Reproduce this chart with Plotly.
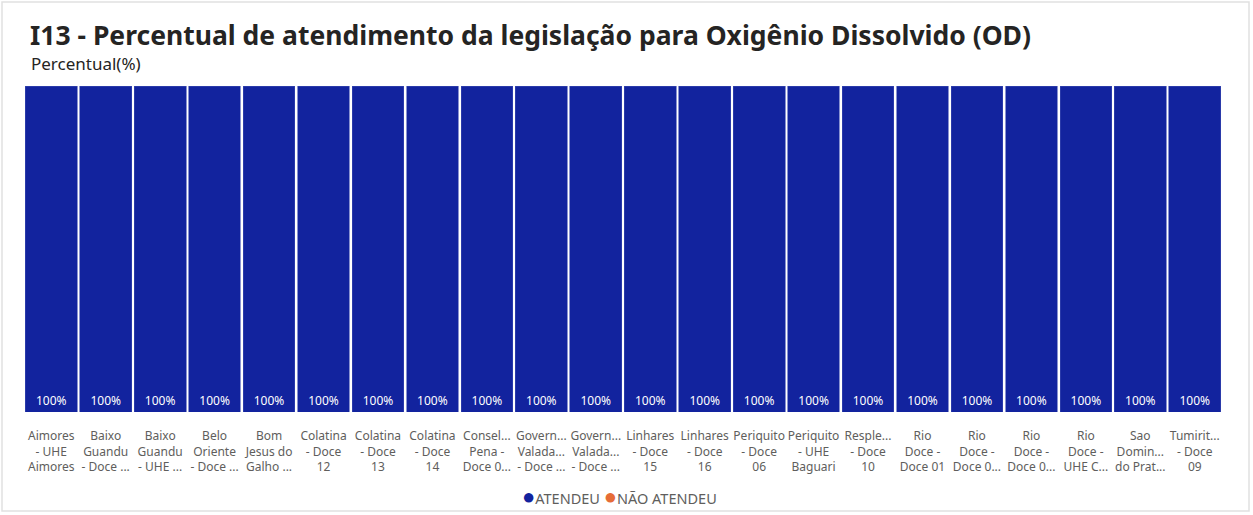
import plotly.graph_objects as go

categories = [
    "Aimores - UHE Aimores", "Baixo Guandu - Doce ...", "Baixo Guandu - UHE ...",
    "Belo Oriente - Doce ...", "Bom Jesus do Galho ...", "Colatina - Doce 12",
    "Colatina - Doce 13", "Colatina - Doce 14", "Consel... Pena - Doce 0...",
    "Govern... Valada... - Doce ... (1)", "Govern... Valada... - Doce ... (2)",
    "Linhares - Doce 15", "Linhares - Doce 16", "Periquito - Doce 06",
    "Periquito - UHE Baguari", "Resple... - Doce 10", "Rio Doce - Doce 01",
    "Rio Doce - Doce 0... (1)", "Rio Doce - Doce 0... (2)", "Rio Doce - UHE C...",
    "Sao Domin... do Prat...", "Tumirit... - Doce 09",
]
tick_labels = [
    "Aimores<br>- UHE<br>Aimores", "Baixo<br>Guandu<br>- Doce ...", "Baixo<br>Guandu<br>- UHE ...",
    "Belo<br>Oriente<br>- Doce ...", "Bom<br>Jesus do<br>Galho ...", "Colatina<br>- Doce<br>12",
    "Colatina<br>- Doce<br>13", "Colatina<br>- Doce<br>14", "Consel...<br>Pena -<br>Doce 0...",
    "Govern...<br>Valada...<br>- Doce ...", "Govern...<br>Valada...<br>- Doce ...",
    "Linhares<br>- Doce<br>15", "Linhares<br>- Doce<br>16", "Periquito<br>- Doce<br>06",
    "Periquito<br>- UHE<br>Baguari", "Resple...<br>- Doce<br>10", "Rio<br>Doce -<br>Doce 01",
    "Rio<br>Doce -<br>Doce 0...", "Rio<br>Doce -<br>Doce 0...", "Rio<br>Doce -<br>UHE C...",
    "Sao<br>Domin...<br>do Prat...", "Tumirit...<br>- Doce<br>09",
]
series_names = ["ATENDEU", "NÃO ATENDEU"]
series_colors = ["#12239E", "#E66C37"]
atendeu = [100] * 22
nao_atendeu = [0] * 22

fig = go.Figure()
fig.add_trace(go.Bar(
    x=categories, y=atendeu, name=series_names[0], showlegend=False,
    marker=dict(color=series_colors[0], line=dict(width=0.6, color="#3A4AB0")),
    text=[f"{v}%" for v in atendeu], textposition="inside",
    insidetextanchor="start", textangle=0,
    textfont=dict(color="white", size=12, family="Noto Sans"),
))
fig.add_trace(go.Bar(
    x=categories, y=nao_atendeu, name=series_names[1], showlegend=False,
    marker=dict(color=series_colors[1], line=dict(width=0)),
))

W, H = 1253, 515
ml, mr, mt, mb = 24, 31, 86, 103
pw, ph = W - ml - mr, H - mt - mb

def px(x):
    return (x - ml) / pw

def py(y):
    return (H - mb - y) / ph

legend_text = "".join(
    f"<span style='color:{c}; font-size:22px'>●</span>{n} " for n, c in zip(series_names, series_colors)
).strip()

fig.update_layout(
    width=W, height=H,
    margin=dict(l=ml, r=mr, t=mt, b=mb, autoexpand=False),
    barmode="stack", bargap=0.05,
    paper_bgcolor="white", plot_bgcolor="white",
    font=dict(family="Noto Sans", color="#605E5C", size=12),
    showlegend=False,
    xaxis=dict(tickmode="array", tickvals=categories, ticktext=tick_labels,
               showgrid=False, zeroline=False, showline=False, ticks="",
               ticklabelstandoff=15,
               tickfont=dict(size=12, color="#605E5C"), tickangle=0, automargin=False),
    yaxis=dict(range=[0, 100], visible=False, fixedrange=True),
    annotations=[
        dict(text="<b>I13 - Percentual de atendimento da legislação para Oxigênio Dissolvido (OD)</b>",
             xref="paper", yref="paper", x=px(28), y=py(35.5), xanchor="left", yanchor="middle",
             showarrow=False, font=dict(size=26.5, color="#252423", family="Noto Sans")),
        dict(text="Percentual(%)", xref="paper", yref="paper", x=px(29), y=py(64),
             xanchor="left", yanchor="middle", showarrow=False,
             font=dict(size=17, color="#252423", family="Noto Sans")),
        dict(text=legend_text, xref="paper", yref="paper", x=px(619), y=py(495),
             xanchor="center", yanchor="middle", showarrow=False,
             font=dict(size=14.5, color="#605E5C", family="Noto Sans")),
    ],
    shapes=[
        dict(type="rect", xref="paper", yref="paper", x0=px(2), x1=px(1249), y0=py(2), y1=py(511),
             line=dict(color="#E1E1E1", width=1.5), fillcolor="rgba(0,0,0,0)", layer="below"),
    ],
)

fig.write_html("out.html", config={"displayModeBar": False},
               post_script="document.body.style.margin='0px'; document.body.style.overflow='hidden';")
